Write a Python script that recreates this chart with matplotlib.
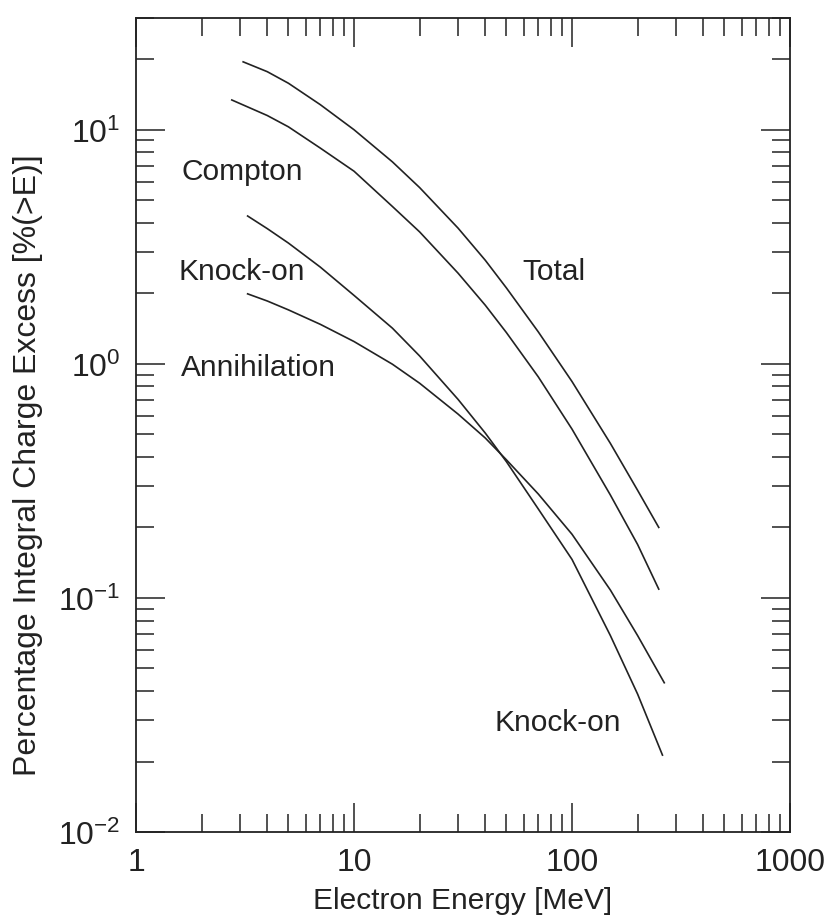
import matplotlib
matplotlib.use("Agg")
import matplotlib.pyplot as plt
from matplotlib.ticker import LogLocator, NullFormatter

plt.rcParams['font.family'] = ['Liberation Sans', 'DejaVu Sans']
plt.rcParams['mathtext.default'] = 'regular'

# curves (energy in MeV, percent)
total_x = [3.1, 4, 5, 7, 10, 15, 20, 30, 40, 50, 70, 100, 150, 200, 250]
total_y = [19.5, 17.7, 15.8, 12.8, 10.0, 7.29, 5.66, 3.80, 2.77, 2.11, 1.37, 0.84, 0.457, 0.288, 0.2]

compton_x = [2.75, 4, 5, 7, 10, 15, 20, 30, 40, 50, 70, 100, 150, 200, 250]
compton_y = [13.4, 11.5, 10.29, 8.35, 6.65, 4.7, 3.66, 2.44, 1.78, 1.36, 0.88, 0.526, 0.275, 0.169, 0.109]

knockon_x = [3.25, 4, 5, 7, 10, 15, 20, 30, 40, 50, 70, 100, 150, 200, 260]
knockon_y = [4.28, 3.78, 3.28, 2.59, 1.96, 1.42, 1.08, 0.705, 0.506, 0.382, 0.240, 0.146, 0.069, 0.0388, 0.0213]

annihil_x = [3.25, 4, 5, 7, 10, 15, 20, 30, 40, 50, 70, 100, 150, 200, 265]
annihil_y = [1.99, 1.855, 1.70, 1.475, 1.245, 0.996, 0.826, 0.61, 0.482, 0.389, 0.278, 0.187, 0.108, 0.069, 0.0434]

# curve labels and where they sit
labels = ["Compton", "Knock-on", "Annihilation", "Total", "Knock-on"]
label_x = [1.61, 1.56, 1.61, 59, 43.9]
label_y = [6.68, 2.50, 0.97, 2.50, 0.0295]

fig = plt.figure(figsize=(8.30, 9.20), dpi=100)
ax = fig.add_axes([0.1639, 0.0946, 0.7879, 0.8847])

line_color = '#222222'
for xs, ys in [(total_x, total_y), (compton_x, compton_y),
               (knockon_x, knockon_y), (annihil_x, annihil_y)]:
    ax.plot(xs, ys, color=line_color, lw=1.2)

for txt, tx, ty in zip(labels, label_x, label_y):
    ax.text(tx, ty, txt, fontsize=21.5, ha='left', va='center', color='#222222')

ax.set_xscale('log')
ax.set_yscale('log')
ax.set_xlim(1, 1000)
ax.set_ylim(0.01, 30)

ax.yaxis.set_major_locator(LogLocator(base=10, numticks=10))
ax.yaxis.set_minor_locator(LogLocator(base=10, subs=range(2, 10), numticks=10))
ax.xaxis.set_minor_locator(LogLocator(base=10, subs=range(2, 10), numticks=10))
ax.xaxis.set_minor_formatter(NullFormatter())
ax.yaxis.set_minor_formatter(NullFormatter())
ax.set_xticks([1, 10, 100, 1000])
ax.set_xticklabels(['1', '10', '100', '1000'])

ax.tick_params(which='both', direction='in', top=True, right=True,
               labelsize=23, colors='#222222', pad=11)
ax.tick_params(which='major', length=21, width=1.1)
ax.tick_params(which='minor', length=13, width=1.1)
for sp in ax.spines.values():
    sp.set_linewidth(1.3)
    sp.set_color('#222222')

ax.set_xlabel("Electron Energy [MeV]", fontsize=21.5, color='#222222')
ax.xaxis.set_label_coords(0.5, -0.066)
ax.set_ylabel("Percentage Integral Charge Excess [%(>E)]", fontsize=23,
              color='#222222')
ax.yaxis.set_label_coords(-0.143, 0.452)

fig.savefig("out.png", dpi=100)
